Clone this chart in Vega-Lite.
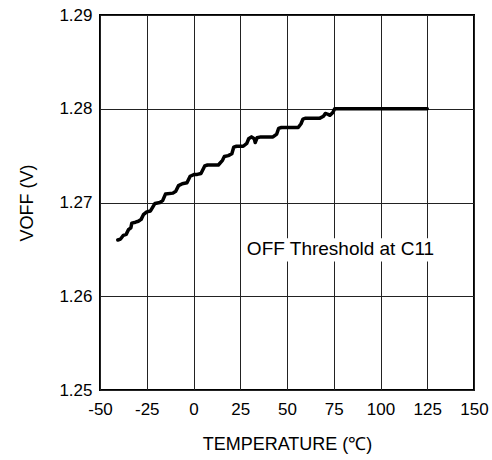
{
  "$schema": "https://vega.github.io/schema/vega-lite/v6.json",
  "width": 374,
  "height": 375,
  "autosize": {"type": "none"},
  "padding": {"left": 100, "top": 15, "right": 18, "bottom": 70},
  "background": "white",
  "config": {
    "font": "Liberation Sans",
    "view": {"stroke": "black", "strokeWidth": 2},
    "axis": {
      "domain": false,
      "ticks": false,
      "grid": true,
      "gridColor": "#222222",
      "gridWidth": 1,
      "gridOpacity": 1,
      "labelFont": "Liberation Sans",
      "labelFontSize": 17,
      "labelColor": "black",
      "labelFlush": false,
      "labelOverlap": false,
      "titleFont": "Liberation Sans",
      "titleFontSize": 18,
      "titleFontWeight": "normal",
      "titleColor": "black"
    }
  },
  "encoding": {
    "x": {
      "field": "t",
      "type": "quantitative",
      "scale": {"domain": [-50, 150], "nice": false},
      "axis": {
        "values": [-50, -25, 0, 25, 50, 75, 100, 125, 150],
        "labelExpr": "'' + datum.value",
        "labelPadding": 11,
        "labelDx": -5,
        "title": "TEMPERATURE (℃)",
        "titlePadding": 18
      }
    },
    "y": {
      "field": "v",
      "type": "quantitative",
      "scale": {"domain": [1.25, 1.29], "nice": false, "zero": false},
      "axis": {
        "values": [1.25, 1.26, 1.27, 1.28, 1.29],
        "format": ".2f",
        "labelPadding": 8,
        "title": "VOFF (V)",
        "titlePadding": 22
      }
    }
  },
  "layer": [
    {
      "data": {"values": [{"t": 27, "t2": 130.5, "v": 1.2637, "v2": 1.2662}]},
      "mark": {"type": "rect", "fill": "white"},
      "encoding": {
        "x2": {"field": "t2"},
        "y2": {"field": "v2"}
      }
    },
    {
      "data": {
        "values": [
          {"t": -40.5, "v": 1.2660},
          {"t": -39, "v": 1.2661},
          {"t": -37.5, "v": 1.2665},
          {"t": -36, "v": 1.2666},
          {"t": -34.8, "v": 1.2671},
          {"t": -33.5, "v": 1.2673},
          {"t": -33, "v": 1.2678},
          {"t": -31, "v": 1.2679},
          {"t": -29.5, "v": 1.2680},
          {"t": -28, "v": 1.2682},
          {"t": -26.8, "v": 1.2687},
          {"t": -25, "v": 1.2690},
          {"t": -23, "v": 1.2691},
          {"t": -20.6, "v": 1.2699},
          {"t": -18, "v": 1.2700},
          {"t": -16.5, "v": 1.2702},
          {"t": -15, "v": 1.2709},
          {"t": -11, "v": 1.2710},
          {"t": -9.5, "v": 1.2712},
          {"t": -8, "v": 1.2718},
          {"t": -6, "v": 1.2720},
          {"t": -3.5, "v": 1.2721},
          {"t": -1.8, "v": 1.2728},
          {"t": 0.5, "v": 1.2730},
          {"t": 2, "v": 1.2730},
          {"t": 4, "v": 1.2731},
          {"t": 6, "v": 1.2739},
          {"t": 7.5, "v": 1.2740},
          {"t": 13.3, "v": 1.2740},
          {"t": 15.5, "v": 1.2745},
          {"t": 16.5, "v": 1.2749},
          {"t": 18.6, "v": 1.2750},
          {"t": 20.5, "v": 1.2752},
          {"t": 21.5, "v": 1.2759},
          {"t": 23, "v": 1.2760},
          {"t": 26.6, "v": 1.2760},
          {"t": 28.5, "v": 1.2763},
          {"t": 29.5, "v": 1.2768},
          {"t": 31, "v": 1.2770},
          {"t": 32.5, "v": 1.2768},
          {"t": 33, "v": 1.2764},
          {"t": 34, "v": 1.2769},
          {"t": 36, "v": 1.2770},
          {"t": 42.5, "v": 1.2770},
          {"t": 44.5, "v": 1.2773},
          {"t": 45.5, "v": 1.2779},
          {"t": 47, "v": 1.2780},
          {"t": 56, "v": 1.2780},
          {"t": 57.5, "v": 1.2784},
          {"t": 58.5, "v": 1.2789},
          {"t": 60, "v": 1.2790},
          {"t": 67.6, "v": 1.2790},
          {"t": 69.5, "v": 1.2792},
          {"t": 70.5, "v": 1.2795},
          {"t": 72, "v": 1.2794},
          {"t": 73, "v": 1.2793},
          {"t": 74.5, "v": 1.2796},
          {"t": 75.5, "v": 1.2800},
          {"t": 77, "v": 1.2800},
          {"t": 125, "v": 1.2800}
        ]
      },
      "mark": {"type": "line", "color": "black", "strokeWidth": 3.5, "strokeJoin": "round", "strokeCap": "round"},
      "encoding": {}
    },
    {
      "data": {"values": [{"t": 78.6, "v": 1.2650, "label": "OFF Threshold at C11"}]},
      "mark": {"type": "text", "fontSize": 19, "align": "center", "baseline": "middle", "color": "black"},
      "encoding": {
        "text": {"field": "label"}
      }
    }
  ]
}
